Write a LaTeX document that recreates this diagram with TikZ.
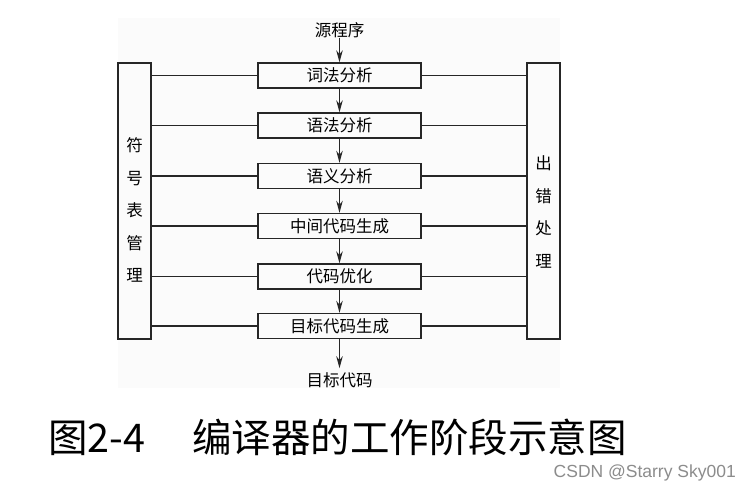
\documentclass[tikz,border=0pt]{standalone}
\usepackage{fontspec}
\setmainfont{Liberation Sans}
\newfontfamily\cjk{Noto Sans CJK SC}
\usetikzlibrary{arrows.meta}
\begin{document}
\begin{tikzpicture}[x=1pt,y=-1pt,
  stagebox/.style={draw=black!85, line width=1.4pt, minimum width=163pt, minimum height=25pt, inner sep=0pt, font=\cjk\fontsize{16.5}{16.5}\selectfont},
  sidebox/.style={draw=black!85, line width=1.4pt, minimum width=33pt, minimum height=276pt, inner sep=0pt},
  link/.style={line width=1.3pt, draw=black!85},
  flow/.style={line width=1.3pt, draw=black!85, -{Stealth[length=12pt,width=6.5pt]}},
  lbl/.style={font=\cjk\fontsize{16.5}{16.5}\selectfont, inner sep=0pt},
  vlbl/.style={font=\cjk\fontsize{16.5}{32.5}\selectfont, inner sep=0pt, align=center}]
\useasboundingbox (0,0) rectangle (751,491);
\fill[white] (0,0) rectangle (751,491);
\fill[black!1.5] (118,18) rectangle (560,388);

\node[sidebox] (lb) at (134.5,201) {};
\node[sidebox] (rb) at (543.5,201) {};
\node[vlbl] (lbt) at (134.5,210) {符\\号\\表\\管\\理};
\node[vlbl] (rbt) at (543.5,212) {出\\错\\处\\理};

\node[stagebox] (s1) at (339.5,75.5) {词法分析};
\node[stagebox] (s2) at (339.5,125.5) {语法分析};
\node[stagebox] (s3) at (339.5,176) {语义分析};
\node[stagebox] (s4) at (339.5,226) {中间代码生成};
\node[stagebox] (s5) at (339.5,276.5) {代码优化};
\node[stagebox] (s6) at (339.5,326) {目标代码生成};

\node[lbl] (src) at (339.5,30) {源程序};
\node[lbl] (tgt) at (339.5,380) {目标代码};

\draw[flow] (src.south) -- (s1.north);
\draw[flow] (s1.south) -- (s2.north);
\draw[flow] (s2.south) -- (s3.north);
\draw[flow] (s3.south) -- (s4.north);
\draw[flow] (s4.south) -- (s5.north);
\draw[flow] (s5.south) -- (s6.north);
\draw[flow] (s6.south) -- ([yshift=4pt]tgt.north);

\foreach \s in {s1,s2,s3,s4,s5,s6}{
  \draw[link] (\s.west) -- (\s.west -| lb.east);
  \draw[link] (\s.east) -- (\s.east -| rb.west);
}

\node[anchor=base west, inner sep=0pt, font=\cjk\fontsize{39.5}{40}\selectfont] (cap1) at (48,452) {图2-4};
\node[anchor=base west, inner sep=0pt, font=\cjk\fontsize{39.5}{40}\selectfont] (cap2) at (192,452) {编译器的工作阶段示意图};
\node[anchor=base east, inner sep=0pt, font=\fontsize{17.5}{17.5}\selectfont, text=black!45] (wm) at (736,477) {CSDN @Starry Sky001};
\end{tikzpicture}
\end{document}
